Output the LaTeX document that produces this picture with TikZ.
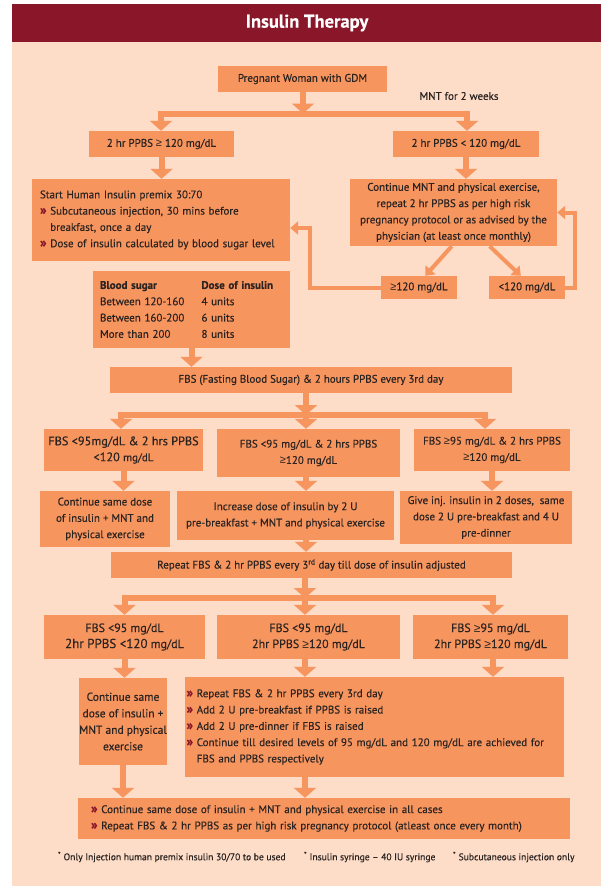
\documentclass[tikz,border=0pt]{standalone}
\usepackage{fontspec}
\setmainfont{PT Sans}[FakeBold=0.3]
\newfontfamily\symfont{Liberation Sans}
\usepackage{tikz}
\usetikzlibrary{arrows.meta}

\definecolor{titlered}{HTML}{8A1729}
\definecolor{peach}{HTML}{FDDCC8}
\definecolor{boxorange}{HTML}{F7955F}
\definecolor{ink}{HTML}{2A2320}
\newcommand{\chev}{\textcolor{titlered}{\fontsize{13.5}{13}\selectfont\bfseries »}\ }
\newcommand{\gesym}{{\symfont ≥}}

\begin{document}
\begin{tikzpicture}[x=1pt,y=-1pt,>={Triangle[width=22pt,length=10pt]},
  font=\fontsize{11}{16.3}\selectfont,text=ink]
   \tikzstyle{box}=[fill=boxorange,inner sep=0pt,align=center]
   \tikzstyle{flow}=[draw=boxorange,line width=6pt,->]
   \tikzstyle{branch}=[draw=boxorange,line width=6pt,<->]
   \tikzstyle{thin}=[draw=boxorange,line width=4pt,-{Triangle[width=13pt,length=8pt]}]

   \useasboundingbox (0,0) rectangle (606,886);
   \fill[peach] (12,42) rectangle (601,886);
   \fill[titlered] (12,4) rectangle (601,42);
   \node[text=white,font=\fontsize{18.5}{20}\selectfont\bfseries] (title) at (307,23) {Insulin Therapy};

   % start
   \node[box,minimum width=169pt,minimum height=26pt] (gdm) at (302.5,79) {Pregnant Woman with GDM};
   \node (mnt) at (459,96) {MNT for 2 weeks};
   \node[box,minimum width=145pt,minimum height=26pt] (ppbsH) at (161.5,144) {2 hr PPBS \gesym{} 120 mg/dL};
   \node[box,minimum width=146pt,minimum height=26pt] (ppbsL) at (466,144) {2 hr PPBS < 120 mg/dL};
   \coordinate (j1l) at (161,113.5);
   \coordinate (j1m) at (303,113.5);
   \coordinate (j1r) at (467,113.5);
   \draw[flow] (gdm.south -| j1m) -- (j1m);
   \draw[branch] (ppbsH.north -| j1l) -- (j1l) -- (j1r) -- (ppbsL.north -| j1r);

   % first split
   \node[box,text width=242pt,align=left,minimum width=258pt,minimum height=82pt] (start) at (161,220)
     {Start Human Insulin premix 30:70\\
      \chev Subcutaneous injection, 30 mins before\\
      \hphantom{\chev}breakfast, once a day\\
      \chev Dose of insulin calculated by blood sugar level};
   \node[box,minimum width=207pt,minimum height=67pt] (cont) at (453.5,212.5)
     {Continue MNT and physical exercise,\\repeat 2 hr PPBS as per high risk\\pregnancy protocol or as advised by the\\physician (at least once monthly)};
   \draw[flow] (ppbsH.south) -- (ppbsH.south |- start.north);
   \draw[flow] (ppbsL.south) -- (ppbsL.south |- cont.north);

   \node[box,minimum width=76pt,minimum height=23pt] (hi) at (419,287.5) {\gesym120 mg/dL};
   \node[box,minimum width=76pt,minimum height=23pt] (lo) at (527,287.5) {<120 mg/dL};
   \draw[thin] (cont.-93) -- (hi.62);
   \draw[thin] (cont.-43) -- (lo.118);
   \coordinate (loopL) at (310,228);
   \coordinate (loopR) at (575,212.5);
   \draw[thin] (hi.west) -| (loopL) -- (loopL -| start.east);
   \draw[thin] (lo.east) -| (loopR) -- (cont.east);

   \node[box,text width=183pt,align=left,minimum width=197pt,minimum height=77pt] (dose) at (191.5,309.5)
     {\textbf{\makebox[101.5pt][l]{Blood sugar}Dose of insulin}\\
      \makebox[101.5pt][l]{Between 120-160}4 units\\
      \makebox[101.5pt][l]{Between 160-200}6 units\\
      \makebox[101.5pt][l]{More than 200}8 units};

   % every 3rd day
   \node[box,minimum width=402pt,minimum height=26pt] (fbs) at (311,380) {FBS (Fasting Blood Sugar) \& 2 hours PPBS every 3rd day};
   \draw[flow] (dose.south) -- (dose.south |- fbs.north);
   \coordinate (j2l) at (121,415);
   \coordinate (j2m) at (306,415);
   \coordinate (j2r) at (485,415);
   \node[box,minimum width=159pt,minimum height=42pt,font=\fontsize{12.3}{16}\selectfont] (r1a) at (123.5,450)
     {FBS <95mg/dL \& 2 hrs PPBS\\<120 {\fontsize{11}{13}\selectfont mg/dL}};
   \node[box,minimum width=183pt,minimum height=48pt] (r1b) at (308.5,453) {FBS <95 mg/dL \& 2 hrs PPBS\\\gesym120 mg/dL};
   \node[box,minimum width=156pt,minimum height=42pt] (r1c) at (492,450) {FBS \gesym95 mg/dL \& 2 hrs PPBS\\\gesym120 mg/dL};
   \draw[flow] (fbs.south -| j2m) -- (j2m);
   \draw[branch] (r1a.north -| j2l) -- (j2l) -- (j2r) -- (r1c.north -| j2r);
   \draw[flow] (j2m) -- (j2m |- r1b.north);

   \node[box,minimum width=130pt,minimum height=56pt] (r2a) at (105,519) {Continue same dose\\of insulin + MNT and\\physical exercise};
   \node[box,minimum width=217pt,minimum height=49pt] (r2b) at (285.5,515.5) {Increase dose of insulin by 2 U\\pre-breakfast + MNT and physical exercise};
   \node[box,minimum width=172pt,minimum height=53pt] (r2c) at (486,517.5) {Give inj. insulin in 2 doses,\ \ same\\dose 2 U pre-breakfast and 4 U\\pre-dinner};
   \draw[flow] (r1a.south) -- (r1a.south |- r2a.north);
   \draw[flow] (r1b.south -| j2m) -- (r2b.north -| j2m);
   \draw[flow] (r1c.south) -- (r1c.south |- r2c.north);

   \node[box,minimum width=401pt,minimum height=26pt] (rep) at (311.5,565)
     {Repeat FBS \& 2 hr PPBS every 3\textsuperscript{rd} day till dose of insulin adjusted};
   \draw[flow] (r2b.south -| j2m) -- (rep.north -| j2m);

   % adjusted dose
   \coordinate (j3l) at (124.5,598);
   \coordinate (j3m) at (305,598);
   \coordinate (j3r) at (493,598);
   \node[box,minimum width=161pt,minimum height=44pt,font=\fontsize{12}{16}\selectfont] (r3a) at (124.5,637)
     {FBS <95 mg/dL\\{\fontsize{13}{16}\selectfont 2hr PPBS <120} mg/dL};
   \node[box,minimum width=183pt,minimum height=44pt,font=\fontsize{12}{16}\selectfont] (r3b) at (308.5,637) {FBS <95 mg/dL\\2hr PPBS \gesym120 mg/dL};
   \node[box,minimum width=155pt,minimum height=44pt,font=\fontsize{12}{16}\selectfont] (r3c) at (490.5,637) {FBS \gesym95 mg/dL\\2hr PPBS \gesym120 mg/dL};
   \draw[flow] (rep.south -| j3m) -- (j3m);
   \draw[branch] (r3a.north -| j3l) -- (j3l) -- (j3r) -- (r3c.north -| j3r);
   \draw[flow] (j3m) -- (j3m |- r3b.north);

   \node[box,minimum width=88pt,minimum height=87pt,font=\fontsize{11.5}{16.5}\selectfont] (r4a) at (123,721.5)
     {Continue same\\dose of insulin +\\MNT and physical\\exercise};
   \node[box,text width=376pt,align=left,minimum width=379pt,minimum height=100pt] (r4b) at (374.5,727)
     {\chev Repeat FBS \& 2 hr PPBS every 3rd day\\
      \chev Add 2 U pre-breakfast if PPBS is raised\\
      \chev Add 2 U pre-dinner if FBS is raised\\
      \chev Continue till desired levels of 95 mg/dL and 120 mg/dL are achieved for\\
      \hphantom{\chev}FBS and PPBS respectively};
   \draw[flow] (r3a.south) -- (r3a.south |- r4a.north);
   \draw[flow] (r3b.south -| j3m) -- (r4b.north -| j3m);
   \draw[flow] (r3c.south -| j3r) -- (r4b.north -| j3r);

   \node[box,text width=466pt,align=left,minimum width=492pt,minimum height=41pt] (fin) at (324,818.5)
     {\chev Continue same dose of insulin + MNT and physical exercise in all cases\\
      \chev Repeat FBS \& 2 hr PPBS as per high risk pregnancy protocol (atleast once every month)};
   \draw[flow] (r4a.south) -- (r4a.south |- fin.north);
   \draw[flow] (r4b.south -| j3m) -- (fin.north -| j3m);

   % notes
   \node[anchor=west,inner sep=0pt,font=\fontsize{9.6}{10}\selectfont] (n1) at (58,857) {\textsuperscript{*} Only Injection human premix insulin 30/70 to be used};
   \node[anchor=west,inner sep=0pt,font=\fontsize{9.6}{10}\selectfont] (n2) at (304,857) {\textsuperscript{*} Insulin syringe – 40 IU syringe};
   \node[anchor=west,inner sep=0pt,font=\fontsize{9.6}{10}\selectfont] (n3) at (453,857) {\textsuperscript{*} Subcutaneous injection only};
\end{tikzpicture}
\end{document}
